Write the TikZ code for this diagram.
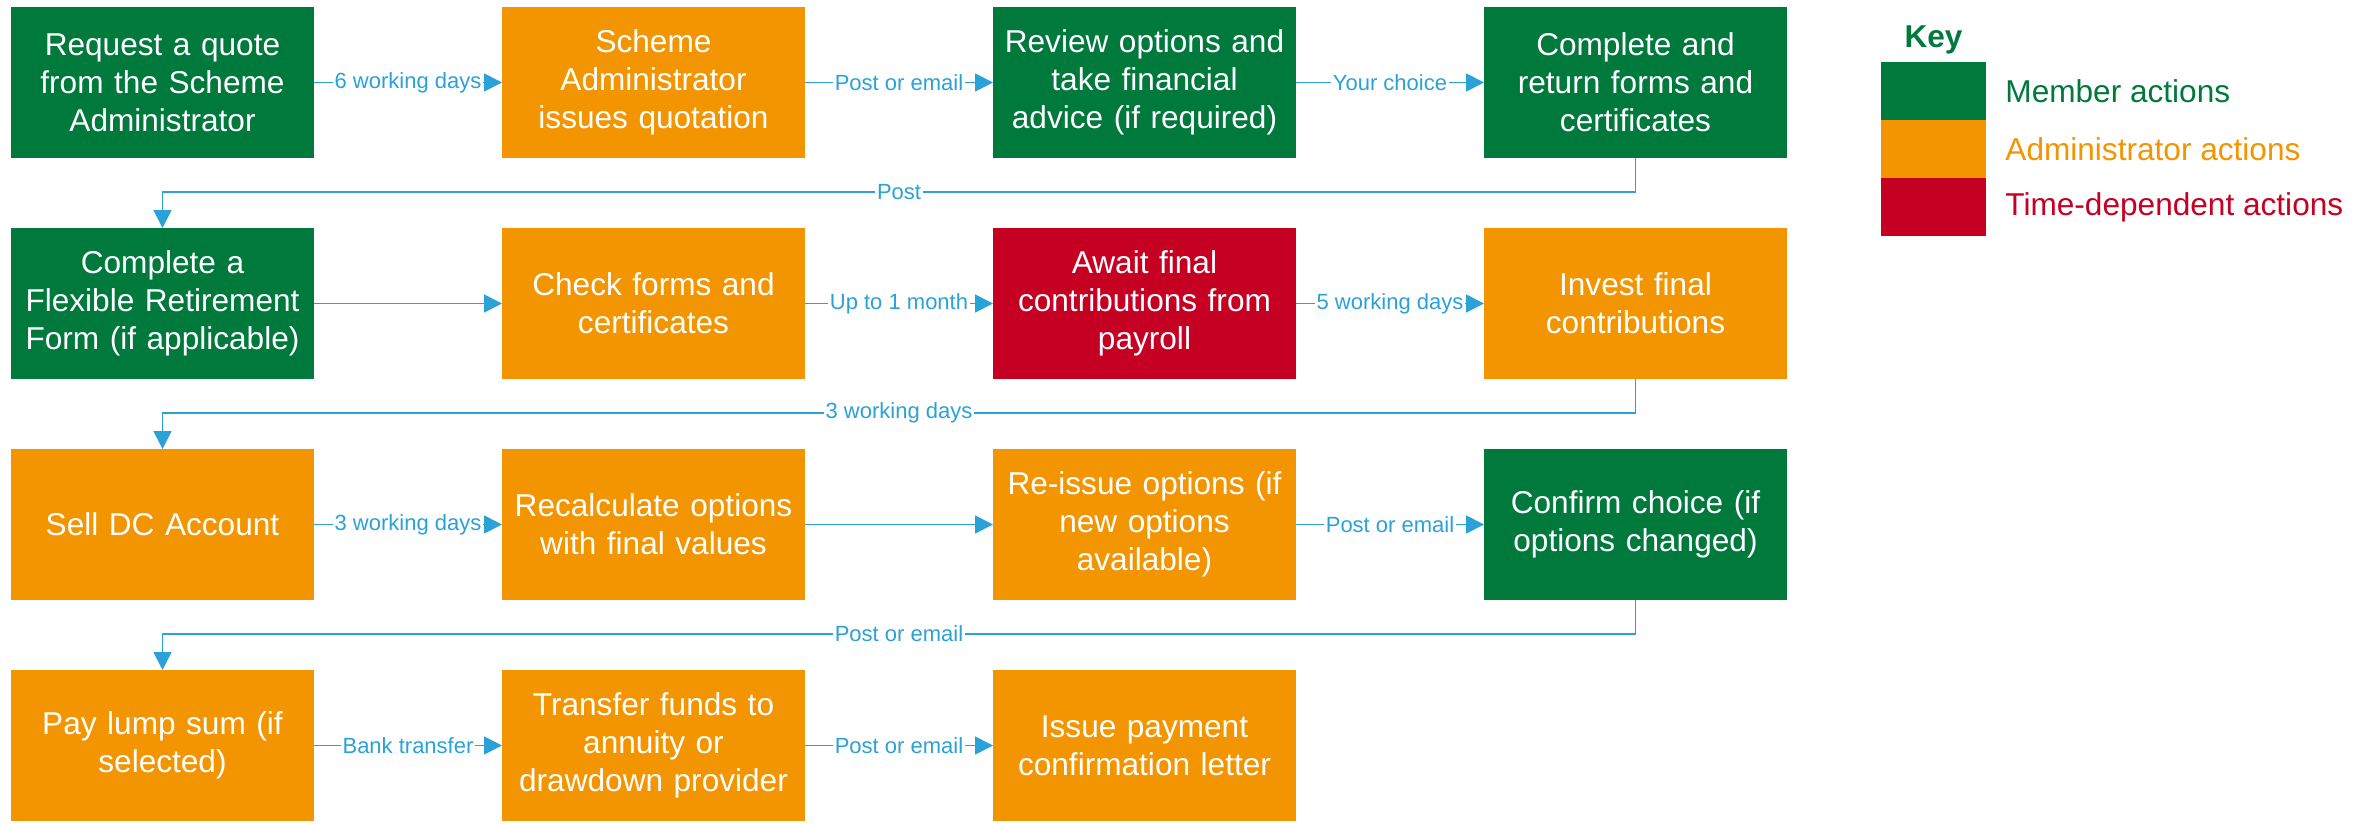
\documentclass[tikz,border=0pt]{standalone}
\usepackage{fontspec}
\setmainfont{Liberation Sans}
\usetikzlibrary{matrix,positioning,arrows.meta}
\definecolor{membergreen}{HTML}{00793D}
\definecolor{adminorange}{HTML}{F39500}
\definecolor{timered}{HTML}{C50023}
\definecolor{linkblue}{HTML}{2AA2D8}
\newcommand\stepfont{\fontsize{15.8}{19}\selectfont}
\newcommand\linkfont{\fontsize{11}{12}\selectfont}
\def\Steps{
    \matrix (steps) at (11,7)
    [matrix of nodes,
    ampersand replacement=\&,
    anchor=north west,
    inner sep=0pt, outer sep=0pt,
    column sep={94pt},
    row sep={35pt},
    nodes={outer sep=0pt, inner sep=2pt, minimum width=151.5pt, minimum height=75.5pt, text width=147pt,
           anchor=center, align=center, text=white, font=\stepfont, rectangle} ]
    {
     |[member]| {Request a quote\\from the Scheme\\Administrator} \& |[admin]| {Scheme\\Administrator\\issues quotation} \& |[member]| {Review options and\\take financial\\advice (if required)} \& |[member]| {Complete and\\return forms and\\certificates} \\
     |[member]| {Complete a\\Flexible Retirement\\Form (if applicable)} \& |[admin]| {Check forms and\\certificates} \& |[timed]| {Await final\\contributions from\\payroll} \& |[admin]| {Invest final\\contributions} \\
     |[admin]| {Sell DC Account} \& |[admin]| {Recalculate options\\with final values} \& |[admin]| {Re-issue options (if\\new options\\available)} \& |[member]| {Confirm choice (if\\options changed)} \\
     |[admin]| {Pay lump sum (if\\selected)} \& |[admin]| {Transfer funds to\\annuity or\\drawdown provider} \& |[admin]| {Issue payment\\confirmation letter} \\
};
}

\begin{document}
\begin{tikzpicture}[x=0.5pt, y=-0.5pt,
    member/.style={fill=membergreen},
    admin/.style={fill=adminorange},
    timed/.style={fill=timered},
    link/.style={draw=linkblue, line width=0.9pt, -{Triangle[length=9pt,width=9pt]}},
    lbl/.style={fill=white, text=linkblue, font=\linkfont, inner sep=1pt},
    keybox/.style={minimum width=52.5pt, minimum height=29pt, inner sep=0pt, outer sep=0pt},
    keytext/.style={font=\stepfont, inner sep=0pt}]
    \useasboundingbox (0,0) rectangle (2371,824);
    \Steps
    % row 1
    \draw[link] (steps-1-1) -- node[lbl] {6 working days} (steps-1-2);
    \draw[link] (steps-1-2) -- node[lbl] {Post or email} (steps-1-3);
    \draw[link] (steps-1-3) -- node[lbl] {Your choice} (steps-1-4);
    \draw[link] (steps-1-4.south) -- ++(0,34) coordinate (wrapa) -| node[lbl, pos=0.25] {Post} (steps-2-1.north);
    % row 2
    \draw[link] (steps-2-1) -- (steps-2-2);
    \draw[link] (steps-2-2) -- node[lbl] {Up to 1 month} (steps-2-3);
    \draw[link] (steps-2-3) -- node[lbl] {5 working days} (steps-2-4);
    \draw[link] (steps-2-4.south) -- ++(0,34) coordinate (wrapb) -| node[lbl, pos=0.25] {3 working days} (steps-3-1.north);
    % row 3
    \draw[link] (steps-3-1) -- node[lbl] {3 working days} (steps-3-2);
    \draw[link] (steps-3-2) -- (steps-3-3);
    \draw[link] (steps-3-3) -- node[lbl] {Post or email} (steps-3-4);
    \draw[link] (steps-3-4.south) -- ++(0,34) coordinate (wrapc) -| node[lbl, pos=0.25] {Post or email} (steps-4-1.north);
    % row 4
    \draw[link] (steps-4-1) -- node[lbl] {Bank transfer} (steps-4-2);
    \draw[link] (steps-4-2) -- node[lbl] {Post or email} (steps-4-3);
    % key
    \node[keybox, member] (keymember) at (1933.5,91) {};
    \node[keybox, admin, below=0pt of keymember] (keyadmin) {};
    \node[keybox, timed, below=0pt of keyadmin] (keytime) {};
    \node[keytext, text=membergreen, font=\stepfont\bfseries, above=4pt of keymember] (keytitle) {Key};
    \node[keytext, text=membergreen, right=9.5pt of keymember] (keymembertext) {Member actions};
    \node[keytext, text=adminorange, right=9.5pt of keyadmin] (keyadmintext) {Administrator actions};
    \node[keytext, text=timered, right=9.5pt of keytime] (keytimetext) {Time-dependent actions};
\end{tikzpicture}
\end{document}
